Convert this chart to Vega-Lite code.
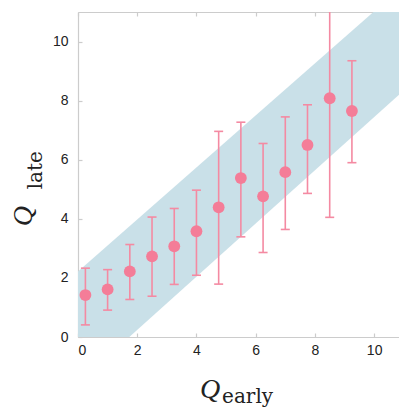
{
  "$schema": "https://vega.github.io/schema/vega-lite/v6.json",
  "autosize": "none",
  "width": 321,
  "height": 325,
  "padding": {"left": 78, "top": 12, "right": 0, "bottom": 72},
  "background": "white",
  "config": {
    "view": {"stroke": null},
    "axis": {
      "grid": false,
      "domainColor": "#cccccc",
      "tickColor": "#cccccc",
      "domainWidth": 1.2,
      "tickWidth": 1.2,
      "tickSize": -4,
      "labelFont": "Liberation Sans",
      "labelFontSize": 14,
      "labelColor": "#222222",
      "labelPadding": 10
    }
  },
  "datasets": {
    "band": [
      {"x": 0, "lower": -1.56, "upper": 2.22},
      {"x": 10.84, "lower": 8.2, "upper": 11.76}
    ],
    "pts": [
      {"x": 0.25, "y": 1.42, "lo": 0.41, "hi": 2.33},
      {"x": 1.0, "y": 1.61, "lo": 0.91, "hi": 2.28},
      {"x": 1.75, "y": 2.22, "lo": 1.27, "hi": 3.13},
      {"x": 2.5, "y": 2.73, "lo": 1.38, "hi": 4.06},
      {"x": 3.25, "y": 3.07, "lo": 1.78, "hi": 4.35},
      {"x": 4.0, "y": 3.58, "lo": 2.09, "hi": 4.97},
      {"x": 4.75, "y": 4.39, "lo": 1.79, "hi": 6.96},
      {"x": 5.5, "y": 5.38, "lo": 3.39, "hi": 7.27},
      {"x": 6.25, "y": 4.76, "lo": 2.86, "hi": 6.55},
      {"x": 7.0, "y": 5.58, "lo": 3.64, "hi": 7.45},
      {"x": 7.75, "y": 6.5, "lo": 4.86, "hi": 7.86},
      {"x": 8.5, "y": 8.08, "lo": 4.05, "hi": 12.1},
      {"x": 9.25, "y": 7.65, "lo": 5.9, "hi": 9.35}
    ]
  },
  "resolve": {"axis": {"x": "independent"}},
  "layer": [
    {
      "data": {"name": "band"},
      "mark": {"type": "area", "color": "#c9e0e8", "opacity": 1, "clip": true},
      "encoding": {
        "x": {"field": "x", "type": "quantitative", "scale": {"domain": [0, 10.84], "nice": false, "zero": false},
          "axis": {"orient": "bottom", "values": [0, 2, 4, 6, 8, 10], "title": null, "labelPadding": 10}},
        "y": {"field": "lower", "type": "quantitative", "scale": {"domain": [0, 11], "nice": false, "zero": false},
          "axis": {"orient": "left", "values": [0, 2, 4, 6, 8, 10], "title": null, "labelPadding": 14}},
        "y2": {"field": "upper"}
      }
    },
    {
      "data": {"name": "pts"},
      "mark": {"type": "rule", "color": "#f48aa2", "strokeWidth": 1.6, "clip": true},
      "encoding": {
        "x": {"field": "x", "type": "quantitative",
          "axis": {"orient": "top", "values": [0, 2, 4, 6, 8, 10], "labels": false, "title": null}},
        "y": {"field": "lo", "type": "quantitative", "title": null},
        "y2": {"field": "hi"}
      }
    },
    {
      "data": {"name": "pts"},
      "mark": {"type": "tick", "color": "#f48aa2", "orient": "horizontal", "size": 9, "thickness": 1.6, "clip": true, "opacity": 1},
      "encoding": {
        "x": {"field": "x", "type": "quantitative", "axis": null},
        "y": {"field": "lo", "type": "quantitative", "title": null}
      }
    },
    {
      "data": {"name": "pts"},
      "mark": {"type": "tick", "color": "#f48aa2", "orient": "horizontal", "size": 9, "thickness": 1.6, "clip": true, "opacity": 1},
      "encoding": {
        "x": {"field": "x", "type": "quantitative", "axis": null},
        "y": {"field": "hi", "type": "quantitative", "title": null}
      }
    },
    {
      "data": {"name": "pts"},
      "mark": {"type": "circle", "color": "#f47d98", "opacity": 1, "size": 140},
      "encoding": {
        "x": {"field": "x", "type": "quantitative", "axis": null},
        "y": {"field": "y", "type": "quantitative", "title": null}
      }
    },
    {
      "data": {"values": [{}]},
      "mark": {"type": "text", "text": "Q", "font": "Liberation Serif", "fontStyle": "italic", "fontSize": 28, "color": "#222222", "align": "left", "baseline": "alphabetic"},
      "encoding": {
        "x": {"datum": 4.12, "type": "quantitative", "axis": null},
        "y": {"datum": -2.08, "type": "quantitative", "title": null}
      }
    },
    {
      "data": {"values": [{}]},
      "mark": {"type": "text", "text": "early", "font": "DejaVu Serif", "fontSize": 20, "color": "#222222", "align": "left", "baseline": "alphabetic"},
      "encoding": {
        "x": {"datum": 4.865, "type": "quantitative", "axis": null},
        "y": {"datum": -2.24, "type": "quantitative", "title": null}
      }
    },
    {
      "data": {"values": [{}]},
      "mark": {"type": "text", "text": "Q", "font": "Liberation Serif", "fontStyle": "italic", "fontSize": 28, "color": "#222222", "align": "left", "baseline": "alphabetic", "angle": 270},
      "encoding": {
        "x": {"datum": -1.55, "type": "quantitative", "axis": null},
        "y": {"datum": 3.75, "type": "quantitative", "title": null}
      }
    },
    {
      "data": {"values": [{}]},
      "mark": {"type": "text", "text": "late", "font": "DejaVu Serif", "fontSize": 20, "color": "#222222", "align": "left", "baseline": "alphabetic", "angle": 270},
      "encoding": {
        "x": {"datum": -1.22, "type": "quantitative", "axis": null},
        "y": {"datum": 5.0, "type": "quantitative", "title": null}
      }
    }
  ]
}
